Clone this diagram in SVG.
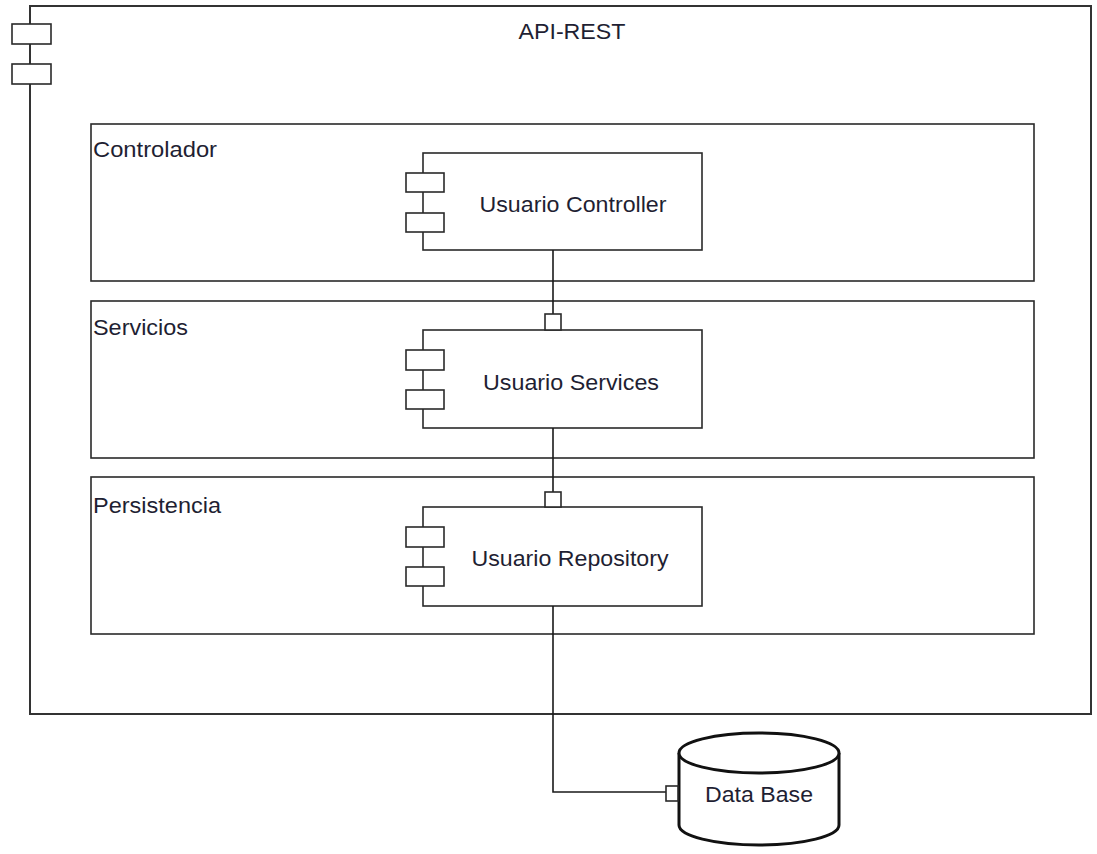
<svg xmlns="http://www.w3.org/2000/svg" width="1097" height="854" viewBox="0 0 1097 854">
  <style>
    .box { fill: #ffffff; stroke: #2a2a2a; stroke-width: 1.6; }
    .outer { fill: #ffffff; stroke: #333333; stroke-width: 2; }
    .wire { fill: none; stroke: #1a1a1a; stroke-width: 1.6; }
    .lbl { font-family: "Liberation Sans", Arial, sans-serif; font-size: 22px; fill: #1f1f33; }
    .mid { text-anchor: middle; }
  </style>

  <!-- API-REST container component -->
  <g id="api-rest">
    <rect class="outer" x="30" y="6" width="1061" height="708"/>
    <rect class="box" x="12" y="24" width="39" height="20"/>
    <rect class="box" x="12" y="64" width="39" height="20"/>
    <text class="lbl mid" x="572" y="39" textLength="107" lengthAdjust="spacingAndGlyphs">API-REST</text>
  </g>

  <!-- layer packages -->
  <g id="controlador">
    <rect class="box" x="91" y="124" width="943" height="157"/>
    <text class="lbl" x="93" y="157" textLength="124" lengthAdjust="spacingAndGlyphs">Controlador</text>
  </g>
  <g id="servicios">
    <rect class="box" x="91" y="301" width="943" height="157"/>
    <text class="lbl" x="93" y="335" textLength="95" lengthAdjust="spacingAndGlyphs">Servicios</text>
  </g>
  <g id="persistencia">
    <rect class="box" x="91" y="477" width="943" height="157"/>
    <text class="lbl" x="93" y="513" textLength="128" lengthAdjust="spacingAndGlyphs">Persistencia</text>
  </g>

  <!-- components -->
  <g id="usuario-controller">
    <rect class="box" x="423" y="153" width="279" height="97"/>
    <rect class="box" x="406" y="173" width="38" height="19"/>
    <rect class="box" x="406" y="213" width="38" height="19"/>
    <text class="lbl mid" x="573" y="212" textLength="187" lengthAdjust="spacingAndGlyphs">Usuario Controller</text>
  </g>
  <g id="usuario-services">
    <rect class="box" x="423" y="330" width="279" height="98"/>
    <rect class="box" x="406" y="350" width="38" height="20"/>
    <rect class="box" x="406" y="390" width="38" height="19"/>
    <text class="lbl mid" x="571" y="390" textLength="176" lengthAdjust="spacingAndGlyphs">Usuario Services</text>
  </g>
  <g id="usuario-repository">
    <rect class="box" x="423" y="507" width="279" height="99"/>
    <rect class="box" x="406" y="527" width="38" height="20"/>
    <rect class="box" x="406" y="567" width="38" height="19"/>
    <text class="lbl mid" x="570" y="566" textLength="197" lengthAdjust="spacingAndGlyphs">Usuario Repository</text>
  </g>

  <!-- database -->
  <g id="data-base">
    <path d="M679 753 L679 825 A80 20 0 0 0 839 825 L839 753" fill="#ffffff" stroke="#111111" stroke-width="3"/>
    <ellipse cx="759" cy="753" rx="80" ry="20" fill="#ffffff" stroke="#111111" stroke-width="3"/>
    <text class="lbl mid" x="759" y="802" textLength="108" lengthAdjust="spacingAndGlyphs">Data Base</text>
  </g>

  <!-- connectors with port squares -->
  <g id="connectors">
    <path class="wire" d="M553 250 L553 314"/>
    <rect class="box" x="545" y="314" width="16" height="16"/>
    <path class="wire" d="M553 428 L553 492"/>
    <rect class="box" x="545" y="492" width="16" height="15"/>
    <path class="wire" d="M553 606 L553 792 L666 792"/>
    <rect class="box" x="666" y="786" width="12" height="15"/>
  </g>
</svg>
